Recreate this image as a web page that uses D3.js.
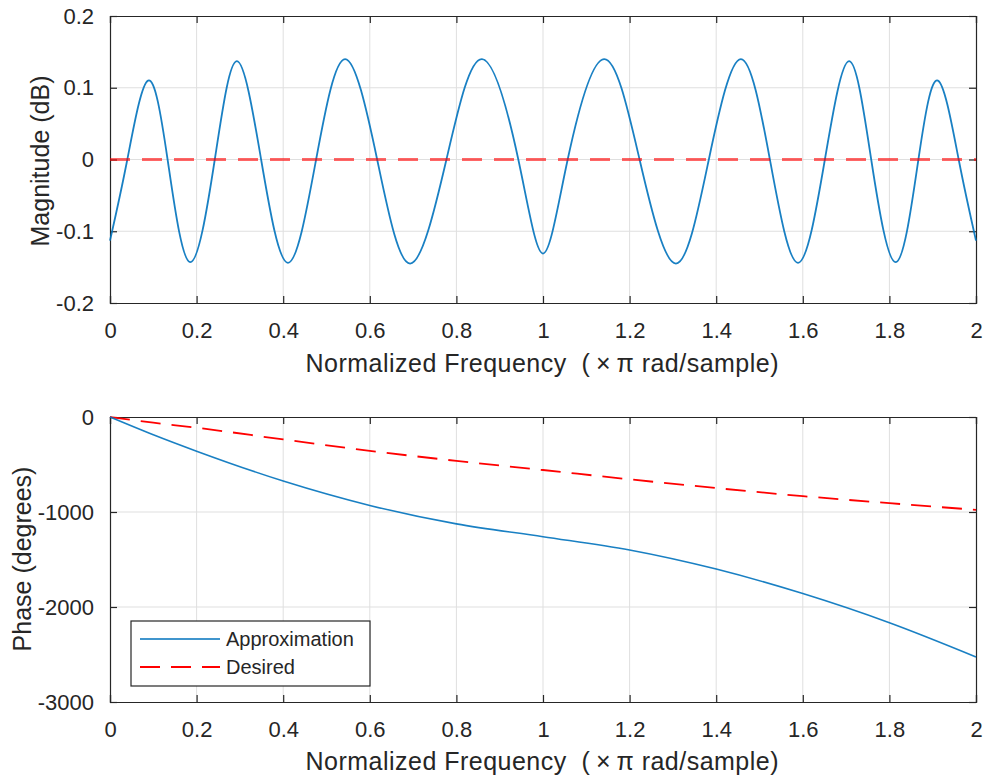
<!DOCTYPE html>
<html>
<head>
<meta charset="utf-8">
<script src="https://cdn.jsdelivr.net/npm/d3@7"></script>
<style>
  html, body { margin: 0; padding: 0; background: #fff; }
  svg { display: block; font-family: "Liberation Sans", Arial, sans-serif; }
  .pre { white-space: pre; }
</style>
</head>
<body>
<svg id="chart" width="987" height="779"></svg>
<script>
// ---------- data ----------
const xTicks = [0, 0.2, 0.4, 0.6, 0.8, 1, 1.2, 1.4, 1.6, 1.8, 2];
const magTicks = [-0.2, -0.1, 0, 0.1, 0.2];
const phaseTicks = [-3000, -2000, -1000, 0];

// magnitude response: extrema and zero crossings
const magFreq = [0, 0.04, 0.088, 0.133, 0.185, 0.242, 0.293, 0.349, 0.411, 0.476, 0.543,
                 0.617, 0.693, 0.777, 0.859, 0.943, 1.0, 1.057, 1.141, 1.223, 1.307,
                 1.383, 1.457, 1.524, 1.589, 1.651, 1.707, 1.758, 1.815, 1.867, 1.912, 1.96, 2.0];
const magDb = [-0.113, 0, 0.110, 0, -0.143, 0, 0.137, 0, -0.144, 0, 0.140,
               0, -0.145, 0, 0.140, 0, -0.131, 0, 0.140, 0, -0.145,
               0, 0.140, 0, -0.144, 0, 0.137, 0, -0.143, 0, 0.110, 0, -0.113];
const desiredMagFreq = [0, 2];
const desiredMagDb = [0, 0];

// phase response
const phaseFreq = [0, 0.1, 0.2, 0.4, 0.6, 0.8, 1.0, 1.2, 1.4, 1.6, 1.8, 2.0];
const approxPhase = [0, -187, -360, -674, -931, -1125, -1260, -1400, -1601, -1859, -2166, -2526];
const desiredPhase = [0, -60, -113, -236, -356, -462, -558, -656, -748, -833, -907, -977];

const legendLabels = ["Approximation", "Desired"];
const xLabelText = "Normalized Frequency  (\u2009\u00D7\u2009\u03C0 rad/sample)";
const yLabels = ["Magnitude (dB)", "Phase (degrees)"];

// ---------- drawing ----------
const svg = d3.select("#chart");
const axisColor = "#262626";
const gridColor = "#dfdfdf";
const blue = "#0072BD";

function panel(opts) {
  const { top, bottom, left, right, yDomain, yTicks, yFmt } = opts;
  const x = d3.scaleLinear().domain([0, 2]).range([left, right]);
  const y = d3.scaleLinear().domain(yDomain).range([bottom, top]);
  const g = svg.append("g");

  // grid
  g.append("g").selectAll("line").data(xTicks.slice(1, -1)).join("line")
    .attr("x1", d => x(d)).attr("x2", d => x(d)).attr("y1", top).attr("y2", bottom)
    .attr("stroke", gridColor).attr("stroke-width", 1);
  g.append("g").selectAll("line").data(yTicks.slice(1, -1)).join("line")
    .attr("x1", left).attr("x2", right).attr("y1", d => y(d)).attr("y2", d => y(d))
    .attr("stroke", gridColor).attr("stroke-width", 1);

  // axes via d3 axis generators (ticks inward)
  const tl = 7;
  const xb = d3.axisBottom(x).tickValues(xTicks).tickSize(-tl).tickPadding(tl + 12).tickFormat(d3.format("~g"));
  const xt = d3.axisTop(x).tickValues(xTicks).tickSize(-tl).tickFormat("");
  const yl = d3.axisLeft(y).tickValues(yTicks).tickSize(-tl).tickPadding(tl + 9).tickFormat(yFmt);
  const yr = d3.axisRight(y).tickValues(yTicks).tickSize(-tl).tickFormat("");

  const gx = g.append("g").attr("transform", `translate(0,${bottom})`).call(xb);
  g.append("g").attr("transform", `translate(0,${top})`).call(xt);
  const gy = g.append("g").attr("transform", `translate(${left},0)`).call(yl);
  g.append("g").attr("transform", `translate(${right},0)`).call(yr);

  g.selectAll(".domain").attr("stroke", axisColor).attr("stroke-width", 1.2);
  g.selectAll(".tick line").attr("stroke", axisColor).attr("stroke-width", 1.2);
  g.selectAll(".tick text").attr("fill", axisColor).attr("font-size", 22)
    .attr("font-family", "'Liberation Sans', Arial, sans-serif");
  gy.selectAll(".tick text").text(d => yFmt(d).replace("\u2212", "-"));
  gx.selectAll(".tick text").text(d => d3.format("~g")(d).replace("\u2212", "-"));
  return { g, x, y };
}

// ---- top panel: magnitude ----
const p1 = panel({ top: 16, bottom: 303, left: 110, right: 976,
  yDomain: [-0.2, 0.2], yTicks: magTicks, yFmt: d3.format("~g") });

const line1 = d3.line().x(d => p1.x(d[0])).y(d => p1.y(d[1])).curve(d3.curveNatural);
p1.g.append("path")
  .datum(magFreq.map((f, i) => [f, magDb[i]]))
  .attr("d", line1).attr("fill", "none").attr("stroke", blue).attr("stroke-opacity", 0.9)
  .attr("stroke-width", 1.8);
p1.g.append("path")
  .datum(desiredMagFreq.map((f, i) => [f, desiredMagDb[i]]))
  .attr("d", d3.line().x(d => p1.x(d[0])).y(d => p1.y(d[1])))
  .attr("fill", "none").attr("stroke", "#ff0000").attr("stroke-opacity", 0.6)
  .attr("stroke-width", 3.2).attr("stroke-dasharray", "20,12");

// ---- bottom panel: phase ----
const p2 = panel({ top: 417, bottom: 702, left: 110, right: 976,
  yDomain: [-3000, 0], yTicks: phaseTicks, yFmt: d3.format("d") });

const line2 = d3.line().x(d => p2.x(d[0])).y(d => p2.y(d[1])).curve(d3.curveMonotoneX);
p2.g.append("path")
  .datum(phaseFreq.map((f, i) => [f, desiredPhase[i]]))
  .attr("d", line2).attr("fill", "none").attr("stroke", "#ff0000")
  .attr("stroke-width", 1.8).attr("stroke-dasharray", "20,11");
p2.g.append("path")
  .datum(phaseFreq.map((f, i) => [f, approxPhase[i]]))
  .attr("d", line2).attr("fill", "none").attr("stroke", blue).attr("stroke-opacity", 0.9)
  .attr("stroke-width", 1.6);

// axis labels
const labelFont = 25;
function xLabel(yBase) {
  svg.append("text").attr("class", "pre").attr("x", 542).attr("y", yBase)
    .attr("text-anchor", "middle").attr("font-size", labelFont).attr("fill", axisColor)
    .attr("textLength", 473).attr("lengthAdjust", "spacing")
    .text(xLabelText);
}
xLabel(372);
xLabel(770);

function yLabel(xBase, yc, txt) {
  svg.append("text").attr("transform", `translate(${xBase},${yc}) rotate(-90)`)
    .attr("text-anchor", "middle").attr("font-size", labelFont).attr("fill", axisColor)
    .text(txt);
}
yLabel(49, 161, yLabels[0]);
yLabel(31, 559, yLabels[1]);

// legend
const lg = svg.append("g");
lg.append("rect").attr("x", 131).attr("y", 621).attr("width", 239).attr("height", 65)
  .attr("fill", "#fff").attr("stroke", axisColor).attr("stroke-width", 1.2);
const legendStyles = [
  { color: blue, dash: null, w: 1.6 },
  { color: "#ff0000", dash: "20,11", w: 1.8 }
];
legendLabels.forEach((lab, i) => {
  const yy = 639 + i * 28;
  lg.append("line").attr("x1", 140).attr("x2", 220).attr("y1", yy).attr("y2", yy)
    .attr("stroke", legendStyles[i].color).attr("stroke-width", legendStyles[i].w)
    .attr("stroke-dasharray", legendStyles[i].dash);
  lg.append("text").attr("x", 226).attr("y", yy + 7).attr("font-size", 20)
    .attr("fill", axisColor).text(lab);
});
</script>
</body>
</html>
